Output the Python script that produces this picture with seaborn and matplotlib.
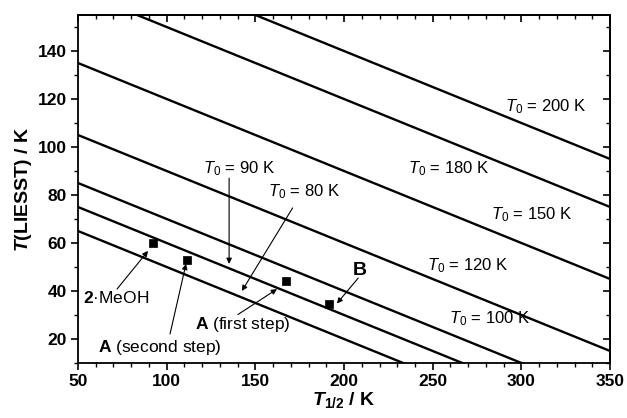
import matplotlib
matplotlib.use("Agg")
import matplotlib.pyplot as plt
import seaborn as sns
import pandas as pd
from matplotlib.ticker import MultipleLocator

# ---- data ----
x_ends = [50, 350]
t0_values = [80, 90, 100, 120, 150, 180, 200]
y_at_50 = [65, 75, 85, 105, 135, 165, 185]
y_at_350 = [-25, -15, -5, 15, 45, 75, 95]

pt_labels = ["2·MeOH", "A (second step)", "A (first step)", "B"]
pt_x = [92.5, 111.5, 167.3, 191.5]
pt_y = [60, 53, 44, 34.5]

sns.set_style("ticks", {"axes.edgecolor": "black", "text.color": "black",
                        "axes.labelcolor": "black", "xtick.color": "black",
                        "ytick.color": "black"})
plt.rcParams['font.family'] = ['Liberation Sans', 'DejaVu Sans']
plt.rcParams['mathtext.fontset'] = 'custom'
plt.rcParams['mathtext.rm'] = 'Liberation Sans'
plt.rcParams['mathtext.it'] = 'Liberation Sans:italic'
plt.rcParams['mathtext.bf'] = 'Liberation Sans:bold'
plt.rcParams['mathtext.bfit'] = 'Liberation Sans:italic:bold'

rows = []
for t0, ya, yb in zip(t0_values, y_at_50, y_at_350):
    rows.append({"T0": t0, "x": x_ends[0], "y": ya})
    rows.append({"T0": t0, "x": x_ends[1], "y": yb})
lines_df = pd.DataFrame(rows)
pts_df = pd.DataFrame({"label": pt_labels, "x": pt_x, "y": pt_y})

fig = plt.figure(figsize=(6.27, 4.18), dpi=100)
ax = fig.add_axes([0.1244, 0.1316, 0.8486, 0.8325])

sns.lineplot(data=lines_df, x="x", y="y", units="T0", estimator=None,
             color="black", linewidth=1.7, ax=ax, legend=False)
sns.scatterplot(data=pts_df, x="x", y="y", marker="s", color="black",
                s=40, edgecolor="black", ax=ax, legend=False, zorder=5)

ax.set_xlim(50, 350)
ax.set_ylim(10, 155)
ax.xaxis.set_major_locator(MultipleLocator(50))
ax.xaxis.set_minor_locator(MultipleLocator(10))
ax.yaxis.set_major_locator(MultipleLocator(20))
ax.yaxis.set_minor_locator(MultipleLocator(10))
ax.set_yticks([20, 40, 60, 80, 100, 120, 140])

for s in ax.spines.values():
    s.set_linewidth(1.3)
    s.set_color("black")
    s.set_visible(True)

ax.tick_params(which='major', direction='out', length=5, width=1.2,
               labelsize=12.5, pad=3, colors='black')
ax.tick_params(which='minor', direction='out', length=3, width=1.0, colors='black')
for lab in ax.get_xticklabels() + ax.get_yticklabels():
    lab.set_fontweight('bold')

# mirrored inward ticks on top/right
top = ax.secondary_xaxis('top')
top.xaxis.set_major_locator(MultipleLocator(50))
top.xaxis.set_minor_locator(MultipleLocator(10))
top.tick_params(which='major', direction='in', length=5, width=1.2, labeltop=False)
top.tick_params(which='minor', direction='in', length=3, width=1.0)
right = ax.secondary_yaxis('right')
right.yaxis.set_major_locator(MultipleLocator(20))
right.yaxis.set_minor_locator(MultipleLocator(10))
right.tick_params(which='major', direction='in', length=5, width=1.2, labelright=False)
right.tick_params(which='minor', direction='in', length=3, width=1.0)
for sp in list(top.spines.values()) + list(right.spines.values()):
    sp.set_linewidth(1.3)
    sp.set_color("black")

ax.set_xlabel(r"$\mathbfit{T}_{\mathbf{1/2}}$ / K", fontsize=14, fontweight='bold',
              labelpad=1, color='black')
ax.set_ylabel(r"$\mathbfit{T}$(LIESST) / K", fontsize=14, fontweight='bold',
              labelpad=3, color='black')

fs = 12
tk = dict(fontsize=fs, va='center', color='black')
# T0 labels
ax.text(291, 117, r"$T_0$ = 200 K", **tk)
ax.text(236, 91, r"$T_0$ = 180 K", **tk)
ax.text(283, 71.7, r"$T_0$ = 150 K", **tk)
ax.text(247, 50.4, r"$T_0$ = 120 K", **tk)
ax.text(259, 28.3, r"$T_0$ = 100 K", **tk)
ax.text(120.5, 91, r"$T_0$ = 90 K", **tk)
ax.text(157, 81.5, r"$T_0$ = 80 K", **tk)

ap = dict(arrowstyle='-|>', lw=0.8, color='black', mutation_scale=8,
          shrinkA=0, shrinkB=0)
ax.annotate("", xy=(135.2, 51.3), xytext=(135.2, 87), arrowprops=ap)
ax.annotate("", xy=(142.4, 40), xytext=(171, 74.6), arrowprops=ap)

# point labels
tk2 = dict(fontsize=12.5, va='center', color='black')
ax.text(52.8, 37, r"$\mathbf{2}$·MeOH", **tk2)
ax.annotate("", xy=(89.5, 56.7), xytext=(72, 40.8), arrowprops=ap)
ax.text(61.5, 16.3, r"$\mathbf{A}$ (second step)", **tk2)
ax.annotate("", xy=(110.9, 51.3), xytext=(101.9, 22.1), arrowprops=ap)
ax.text(116, 26.2, r"$\mathbf{A}$ (first step)", **tk2)
ax.annotate("", xy=(162.2, 40.8), xytext=(140.2, 30.2), arrowprops=ap)
ax.text(205, 48.7, "B", fontsize=14, fontweight='bold', va='center', color='black')
ax.annotate("", xy=(196, 34.8), xytext=(208, 45.4), arrowprops=ap)

fig.savefig("out.png", dpi=100)
